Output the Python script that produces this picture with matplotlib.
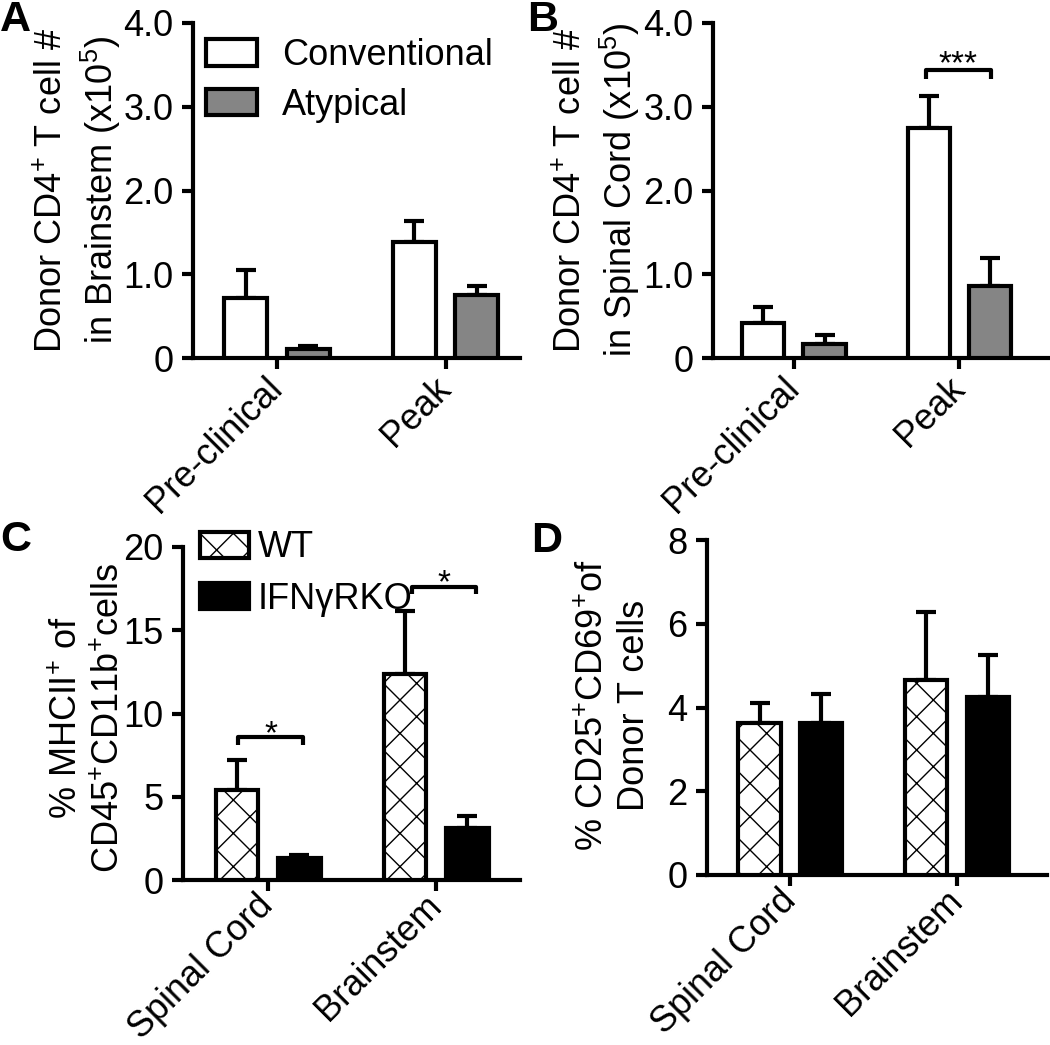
import numpy as np
import matplotlib
matplotlib.use('Agg')
import matplotlib.pyplot as plt

plt.rcParams['font.family'] = ['Liberation Sans', 'DejaVu Sans']
plt.rcParams['mathtext.fontset'] = 'custom'
plt.rcParams['mathtext.rm'] = 'Liberation Sans'
plt.rcParams['mathtext.it'] = 'Liberation Sans'
plt.rcParams['hatch.linewidth'] = 1.0

# data
stages = ['Pre-clinical', 'Peak']
tissues = ['Spinal Cord', 'Brainstem']

a_conv = [0.72, 1.385]
a_conv_err = [1.05, 1.635]
a_atyp = [0.11, 0.75]
a_atyp_err = [0.14, 0.855]

b_conv = [0.42, 2.75]
b_conv_err = [0.61, 3.13]
b_atyp = [0.17, 0.86]
b_atyp_err = [0.27, 1.19]

c_wt = [5.4, 12.4]
c_wt_err = [7.2, 16.15]
c_ko = [1.3, 3.15]
c_ko_err = [1.5, 3.85]

d_wt = [3.62, 4.65]
d_wt_err = [4.1, 6.28]
d_ko = [3.62, 4.26]
d_ko_err = [4.32, 5.25]

FS = 26
LW = 3
GRAY = '#858585'

fig = plt.figure(figsize=(10.5, 10.45), dpi=100)
W, H = 1050, 1045


def add_ax(left, right, top, bottom):
    return fig.add_axes([left / W, 1 - bottom / H, (right - left) / W, (bottom - top) / H])


def style(ax, ylim, yticks, yticklabels, xlim, xlabels, xpad=10):
    for s in ['top', 'right']:
        ax.spines[s].set_visible(False)
    for s in ['left', 'bottom']:
        ax.spines[s].set_linewidth(LW)
    ax.set_ylim(ylim)
    ax.set_xlim(xlim)
    ax.set_yticks(yticks)
    ax.set_yticklabels(yticklabels, fontsize=FS)
    ax.set_xticks(range(len(xlabels)))
    ax.set_xticklabels(xlabels, fontsize=FS, rotation=45, ha='right', va='center',
                       rotation_mode='anchor')
    ax.tick_params(axis='both', width=LW, length=8, pad=6)
    ax.tick_params(axis='x', pad=xpad)


def bars(ax, x, vals, errs, **kw):
    ax.bar(x, vals, width=0.255, edgecolor='k', linewidth=LW, zorder=3, **kw)
    up = np.array(errs) - np.array(vals)
    ax.errorbar(x, vals, yerr=[np.zeros(len(vals)), up], fmt='none', ecolor='k',
                elinewidth=LW, capsize=7, capthick=LW, zorder=2)


def bracket(ax, x0, x1, y, leg, label, ylab):
    ax.plot([x0, x0, x1, x1], [y - leg, y, y, y - leg], color='k', lw=LW,
            solid_capstyle='butt', zorder=4, clip_on=False)
    ax.text((x0 + x1) / 2, ylab, label, ha='center', va='baseline', fontsize=24)


x = np.arange(2)
off = 0.185

# panel A
axA = add_ax(193, 520, 23, 358)
bars(axA, x - off, a_conv, a_conv_err, color='white', label='Conventional')
bars(axA, x + off, a_atyp, a_atyp_err, color=GRAY, label='Atypical')
style(axA, (0, 4.0), [0, 1, 2, 3, 4], ['0', '1.0', '2.0', '3.0', '4.0'], (-0.497, 1.44), stages)
axA.legend(loc='upper left', bbox_to_anchor=(0.04, 0.955), frameon=False, fontsize=FS,
           handlelength=1.4, handleheight=0.75, handletextpad=0.7, labelspacing=0.4,
           borderpad=0, borderaxespad=0)
fig.text(79 / W, 1 - 190 / H, 'Donor CD4$^{+}$ T cell #\nin Brainstem (x10$^{5}$)',
         rotation=90, ha='center', va='center', fontsize=FS, linespacing=1.25,
         multialignment='center')

# panel B
axB = add_ax(713, 1050, 23, 358)
bars(axB, x - off, b_conv, b_conv_err, color='white')
bars(axB, x + off, b_atyp, b_atyp_err, color=GRAY)
style(axB, (0, 4.0), [0, 1, 2, 3, 4], ['0', '1.0', '2.0', '3.0', '4.0'], (-0.49, 1.55), stages)
bracket(axB, 0.8, 1.19, 3.44, 0.11, '***', 3.40)
fig.text(598 / W, 1 - 190 / H, 'Donor CD4$^{+}$ T cell #\nin Spinal Cord (x10$^{5}$)',
         rotation=90, ha='center', va='center', fontsize=FS, linespacing=1.25,
         multialignment='center')

# panel C
axC = add_ax(183, 520, 547, 880)
bars(axC, x - off, c_wt, c_wt_err, color='white', hatch='x', label='WT')
bars(axC, x + off, c_ko, c_ko_err, color='black', label='IFNγRKO')
style(axC, (0, 20), [0, 5, 10, 15, 20], ['0', '5', '10', '15', '20'], (-0.506, 1.5), tissues, xpad=7)
bracket(axC, -0.18, 0.21, 8.6, 0.5, '*', 8.2)
bracket(axC, 0.86, 1.24, 17.6, 0.45, '*', 17.3)
axC.legend(loc='upper left', bbox_to_anchor=(0.05, 1.05), frameon=False, fontsize=FS,
           handlelength=1.35, handleheight=0.75, handletextpad=0.25, labelspacing=0.45,
           borderpad=0, borderaxespad=0)
fig.text(88 / W, 1 - 718 / H, '% MHCII$^{+}$ of\nCD45$^{+}$CD11b$^{+}$cells',
         rotation=90, ha='center', va='center', fontsize=FS, linespacing=1.25,
         multialignment='center')

# panel D
axD = add_ax(707, 1047, 540, 875)
bars(axD, x - off, d_wt, d_wt_err, color='white', hatch='x')
bars(axD, x + off, d_ko, d_ko_err, color='black')
style(axD, (0, 8), [0, 2, 4, 6, 8], ['0', '2', '4', '6', '8'], (-0.5, 1.54), tissues, xpad=7)
fig.text(614 / W, 1 - 705 / H, '% CD25$^{+}$CD69$^{+}$of\nDonor T cells',
         rotation=90, ha='center', va='center', fontsize=FS, linespacing=1.25,
         multialignment='center')

# panel letters
for lbl, px, py in [('A', 0, 0), ('B', 527, 0), ('C', 0, 520), ('D', 531, 521)]:
    fig.text(px / W, 1 - py / H, lbl, ha='left', va='top', fontsize=31, fontweight='bold')

fig.savefig('out.png', dpi=100)
